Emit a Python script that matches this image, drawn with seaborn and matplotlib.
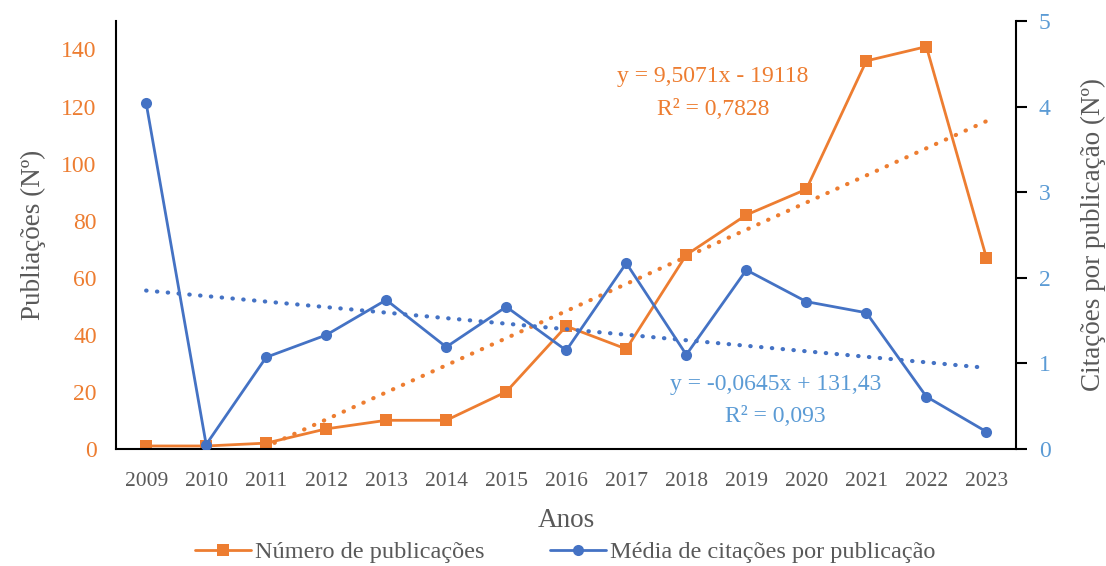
import matplotlib
matplotlib.use('Agg')
import matplotlib.pyplot as plt
import seaborn as sns
import numpy as np
import pandas as pd

# data
anos = [2009, 2010, 2011, 2012, 2013, 2014, 2015, 2016, 2017, 2018, 2019, 2020, 2021, 2022, 2023]
publicacoes = [1, 1, 2, 7, 10, 10, 20, 43, 35, 68, 82, 91, 136, 141, 67]
citacoes = [4.04, 0.05, 1.07, 1.33, 1.74, 1.19, 1.66, 1.15, 2.17, 1.10, 2.09, 1.72, 1.59, 0.61, 0.20]

# trend line coefficients as printed on the chart
trend_pub = (9.5071, -19118)
trend_cit = (-0.0645, 131.43)
eq_pub = ['y = 9,5071x - 19118', 'R² = 0,7828']
eq_cit = ['y = -0,0645x + 131,43', 'R² = 0,093']

ORANGE = '#ED7D31'
BLUE = '#4472C4'
LIGHTBLUE = '#5B9BD5'
GRAY = '#595959'

sns.set_style('white')
plt.rcParams['font.family'] = ['Liberation Serif', 'DejaVu Serif']

df = pd.DataFrame({'Ano': anos, 'Pub': publicacoes, 'Cit': citacoes})
x = np.array(anos, dtype=float)
dotted = (0, (0.1, 2.5))

fig = plt.figure(figsize=(11.06, 5.66), dpi=100)
ax = fig.add_axes([0.105, 0.207, 0.814, 0.756])
ax2 = ax.twinx()

sns.lineplot(data=df, x='Ano', y='Pub', ax=ax, color=ORANGE, marker='s',
             markersize=8, markeredgewidth=0, linewidth=2, label='Número de publicações',
             legend=False)
ax.plot(x, trend_pub[0] * x + trend_pub[1], color=ORANGE, linewidth=3,
        linestyle=dotted, dash_capstyle='round')

sns.lineplot(data=df, x='Ano', y='Cit', ax=ax2, color=BLUE, marker='o',
             markersize=8, markeredgewidth=0, linewidth=2,
             label='Média de citações por publicação', legend=False)
ax2.plot(x, trend_cit[0] * x + trend_cit[1], color=BLUE, linewidth=3,
         linestyle=dotted, dash_capstyle='round')

ax.set_xlim(2008.5, 2023.5)
ax.set_ylim(0, 150)
ax2.set_ylim(0, 5)
ax.set_xticks(anos)
ax.set_xticklabels([str(a) for a in anos])
ax.set_yticks(range(0, 141, 20))
ax2.set_yticks(range(0, 6))

ax.tick_params(axis='x', length=0, labelsize=15.5, labelcolor=GRAY, pad=17)
ax.tick_params(axis='y', length=0, labelsize=17, labelcolor=ORANGE, pad=14)
ax2.tick_params(axis='y', length=8, width=1.5, color='black', direction='out',
                labelsize=17, labelcolor=LIGHTBLUE, pad=8, right=True)

for a in (ax, ax2):
    a.spines['top'].set_visible(False)
ax.spines['right'].set_visible(False)
ax2.spines['left'].set_visible(False)
ax.spines['left'].set_color('black')
ax.spines['left'].set_linewidth(1.5)
ax.spines['bottom'].set_color('black')
ax.spines['bottom'].set_linewidth(1.5)
ax2.spines['bottom'].set_visible(False)
ax2.spines['right'].set_color('black')
ax2.spines['right'].set_linewidth(1.5)

ax.set_xlabel('Anos', fontsize=19.5, color=GRAY, labelpad=12)
ax.set_ylabel('Publiações (Nº)', fontsize=19.5, color=GRAY, labelpad=11)
ax2.set_ylabel('Citações por publicação (Nº)', fontsize=19.5, color=GRAY, labelpad=22)

ax.text(2018.44, 130.6, eq_pub[0], color=ORANGE, fontsize=17, ha='center', va='center')
ax.text(2018.44, 119.1, eq_pub[1], color=ORANGE, fontsize=17, ha='center', va='center')
ax2.text(2019.49, 0.746, eq_cit[0], color=LIGHTBLUE, fontsize=17, ha='center', va='center')
ax2.text(2019.49, 0.373, eq_cit[1], color=LIGHTBLUE, fontsize=17, ha='center', va='center')

h1, l1 = ax.get_legend_handles_labels()
h2, l2 = ax2.get_legend_handles_labels()
fig.legend(h1 + h2, l1 + l2, loc='center', bbox_to_anchor=(0.511, 0.024),
           ncol=2, frameon=False, fontsize=17.5, handlelength=2.3,
           handletextpad=0.15, columnspacing=2.7, labelcolor=GRAY)

fig.savefig('out.png', dpi=100)
